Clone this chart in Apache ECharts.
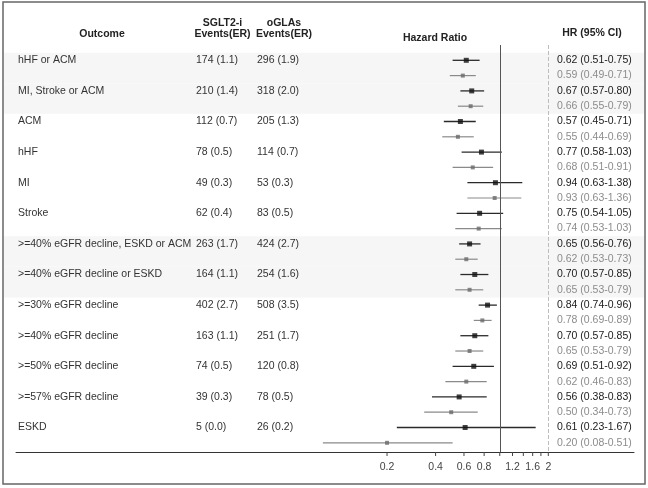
<!DOCTYPE html>
<html>
<head>
<meta charset="utf-8">
<script src="https://cdn.jsdelivr.net/npm/echarts@6/dist/echarts.min.js"></script>
<style>
  html, body { margin: 0; padding: 0; background: #fff; }
  #chart { width: 648px; height: 488px; }
</style>
</head>
<body>
<div id="chart"></div>
<script>
const outcomes = ['hHF or ACM', 'MI, Stroke or ACM', 'ACM', 'hHF', 'MI', 'Stroke',
  '>=40% eGFR decline, ESKD or ACM', '>=40% eGFR decline or ESKD', '>=30% eGFR decline',
  '>=40% eGFR decline', '>=50% eGFR decline', '>=57% eGFR decline', 'ESKD'];
const sgltEvents = ['174 (1.1)', '210 (1.4)', '112 (0.7)', '78 (0.5)', '49 (0.3)', '62 (0.4)',
  '263 (1.7)', '164 (1.1)', '402 (2.7)', '163 (1.1)', '74 (0.5)', '39 (0.3)', '5 (0.0)'];
const oglaEvents = ['296 (1.9)', '318 (2.0)', '205 (1.3)', '114 (0.7)', '53 (0.3)', '83 (0.5)',
  '424 (2.7)', '254 (1.6)', '508 (3.5)', '251 (1.7)', '120 (0.8)', '78 (0.5)', '26 (0.2)'];

const sgltHr = [0.62, 0.67, 0.57, 0.77, 0.94, 0.75, 0.65, 0.70, 0.84, 0.70, 0.69, 0.56, 0.61];
const sgltLo = [0.51, 0.57, 0.45, 0.58, 0.63, 0.54, 0.56, 0.57, 0.74, 0.57, 0.51, 0.38, 0.23];
const sgltHi = [0.75, 0.80, 0.71, 1.03, 1.38, 1.05, 0.76, 0.85, 0.96, 0.85, 0.92, 0.83, 1.67];

const oglaHr = [0.59, 0.66, 0.55, 0.68, 0.93, 0.74, 0.62, 0.65, 0.78, 0.65, 0.62, 0.50, 0.20];
const oglaLo = [0.49, 0.55, 0.44, 0.51, 0.63, 0.53, 0.53, 0.53, 0.69, 0.53, 0.46, 0.34, 0.08];
const oglaHi = [0.71, 0.79, 0.69, 0.91, 1.36, 1.03, 0.73, 0.79, 0.89, 0.79, 0.83, 0.73, 0.51];

const tickMarks = [0.2, 0.4, 0.6, 0.8, 1, 1.2, 1.4, 1.6, 1.8, 2];
const tickLabels = [0.2, 0.4, 0.6, 0.8, 1.2, 1.6, 2];
const shadedOutcomes = [0, 1, 6, 7];

const FONT = '"Liberation Sans", Arial, sans-serif';
const FS = 10.5;
const Y_MAX = 25.6;

const fmt = (hr, lo, hi) => `${hr.toFixed(2)} (${lo.toFixed(2)}-${hi.toFixed(2)})`;

const chart = echarts.init(document.getElementById('chart'));

const option = {
  animation: false,
  backgroundColor: '#fff',
  grid: { left: 16, right: 14, top: 45, bottom: 36 },
  xAxis: {
    type: 'log',
    min: 0.001,
    max: 6.8,
    axisLine: { show: true, onZero: false, lineStyle: { color: '#333', width: 1 } },
    axisTick: { show: false },
    axisLabel: { show: false },
    splitLine: { show: false }
  },
  yAxis: {
    type: 'value',
    inverse: true,
    min: -1,
    max: Y_MAX,
    show: false
  },
  graphic: [
    {
      type: 'rect',
      shape: { x: 3, y: 2, width: 642, height: 482 },
      style: { fill: 'none', stroke: '#666', lineWidth: 1.5 },
      z: 100
    },
    { type: 'text', x: 102, y: 34, style: { text: 'Outcome', font: `bold ${FS}px ${FONT}`, fill: '#222', align: 'center', verticalAlign: 'middle' } },
    { type: 'text', x: 222.5, y: 28.5, style: { text: 'SGLT2-i\nEvents(ER)', font: `bold ${FS}px ${FONT}`, fill: '#222', align: 'center', verticalAlign: 'middle', lineHeight: 11 } },
    { type: 'text', x: 284, y: 28.5, style: { text: 'oGLAs\nEvents(ER)', font: `bold ${FS}px ${FONT}`, fill: '#222', align: 'center', verticalAlign: 'middle', lineHeight: 11 } },
    { type: 'text', x: 435, y: 38, style: { text: 'Hazard Ratio', font: `bold ${FS}px ${FONT}`, fill: '#222', align: 'center', verticalAlign: 'middle' } },
    { type: 'text', x: 592, y: 33.5, style: { text: 'HR (95% CI)', font: `bold ${FS}px ${FONT}`, fill: '#222', align: 'center', verticalAlign: 'middle' } }
  ],
  series: [
    {
      name: 'bands',
      type: 'custom',
      silent: true,
      clip: false,
      z: 0,
      data: shadedOutcomes.map(i => [i * 2 - 0.5, i * 2 + 1.5]),
      renderItem: (params, api) => {
        const top = api.coord([1, api.value(0)])[1];
        const bottom = api.coord([1, api.value(1)])[1];
        return {
          type: 'rect',
          shape: { x: 4, y: top, width: api.getWidth() - 8, height: bottom - top },
          style: { fill: '#f6f6f6' }
        };
      }
    },
    {
      name: 'table',
      type: 'custom',
      silent: true,
      clip: false,
      z: 3,
      data: outcomes.map((o, i) => [i * 2]),
      renderItem: (params, api) => {
        const i = params.dataIndex;
        const y = api.coord([1, api.value(0)])[1];
        const st = (x, text) => ({
          type: 'text',
          style: { x, y, text, font: `${FS}px ${FONT}`, fill: '#333', align: 'left', verticalAlign: 'middle' }
        });
        return {
          type: 'group',
          children: [st(18, outcomes[i]), st(196, sgltEvents[i]), st(257, oglaEvents[i])]
        };
      }
    },
    {
      name: 'hrText',
      type: 'custom',
      silent: true,
      clip: false,
      z: 3,
      data: outcomes.flatMap((o, i) => [[i * 2, 0], [i * 2 + 1, 1]]),
      renderItem: (params, api) => {
        const row = api.value(0);
        const i = Math.floor(row / 2);
        const gray = api.value(1) === 1;
        const text = gray ? fmt(oglaHr[i], oglaLo[i], oglaHi[i]) : fmt(sgltHr[i], sgltLo[i], sgltHi[i]);
        const y = api.coord([1, row])[1];
        return {
          type: 'text',
          style: {
            x: 557, y, text,
            font: `${FS}px ${FONT}`,
            fill: gray ? '#8c8c8c' : '#1a1a1a',
            align: 'left', verticalAlign: 'middle'
          }
        };
      }
    },
    {
      name: 'ticks',
      type: 'custom',
      silent: true,
      clip: false,
      z: 3,
      data: tickMarks.map(v => [v]),
      renderItem: (params, api) => {
        const v = api.value(0);
        const p = api.coord([v, Y_MAX]);
        const children = [{
          type: 'line',
          shape: { x1: p[0], y1: p[1], x2: p[0], y2: p[1] + 4 },
          style: { stroke: '#444', lineWidth: 1 }
        }];
        if (tickLabels.includes(v)) {
          children.push({
            type: 'text',
            style: { x: p[0], y: p[1] + 15, text: String(v), font: `${FS}px ${FONT}`, fill: '#444', align: 'center', verticalAlign: 'middle' }
          });
        }
        return { type: 'group', children };
      }
    },
    {
      name: 'SGLT2-i CI',
      type: 'custom',
      silent: true,
      z: 4,
      data: sgltHr.map((h, i) => [sgltLo[i], sgltHi[i], i * 2]),
      renderItem: (params, api) => {
        const a = api.coord([api.value(0), api.value(2)]);
        const b = api.coord([api.value(1), api.value(2)]);
        return { type: 'line', shape: { x1: a[0], y1: a[1], x2: b[0], y2: b[1] }, style: { stroke: '#2a2a2a', lineWidth: 1.3 } };
      }
    },
    {
      name: 'oGLAs CI',
      type: 'custom',
      silent: true,
      z: 4,
      data: oglaHr.map((h, i) => [oglaLo[i], oglaHi[i], i * 2 + 1]),
      renderItem: (params, api) => {
        const a = api.coord([api.value(0), api.value(2)]);
        const b = api.coord([api.value(1), api.value(2)]);
        return { type: 'line', shape: { x1: a[0], y1: a[1], x2: b[0], y2: b[1] }, style: { stroke: '#8a8a8a', lineWidth: 1.2 } };
      }
    },
    {
      name: 'SGLT2-i',
      type: 'scatter',
      z: 5,
      symbol: 'rect',
      symbolSize: 5,
      itemStyle: { color: '#111' },
      data: sgltHr.map((h, i) => [h, i * 2]),
      markLine: {
        silent: true,
        symbol: ['none', 'none'],
        label: { show: false },
        data: [
          { xAxis: 1, lineStyle: { color: '#555', type: 'solid', width: 1 } },
          { xAxis: 2, lineStyle: { color: '#bdbdbd', type: 'dashed', width: 1 } }
        ]
      }
    },
    {
      name: 'oGLAs',
      type: 'scatter',
      z: 5,
      symbol: 'rect',
      symbolSize: 4,
      itemStyle: { color: '#6a6a6a' },
      data: oglaHr.map((h, i) => [h, i * 2 + 1])
    }
  ]
};

chart.setOption(option);
</script>
</body>
</html>
